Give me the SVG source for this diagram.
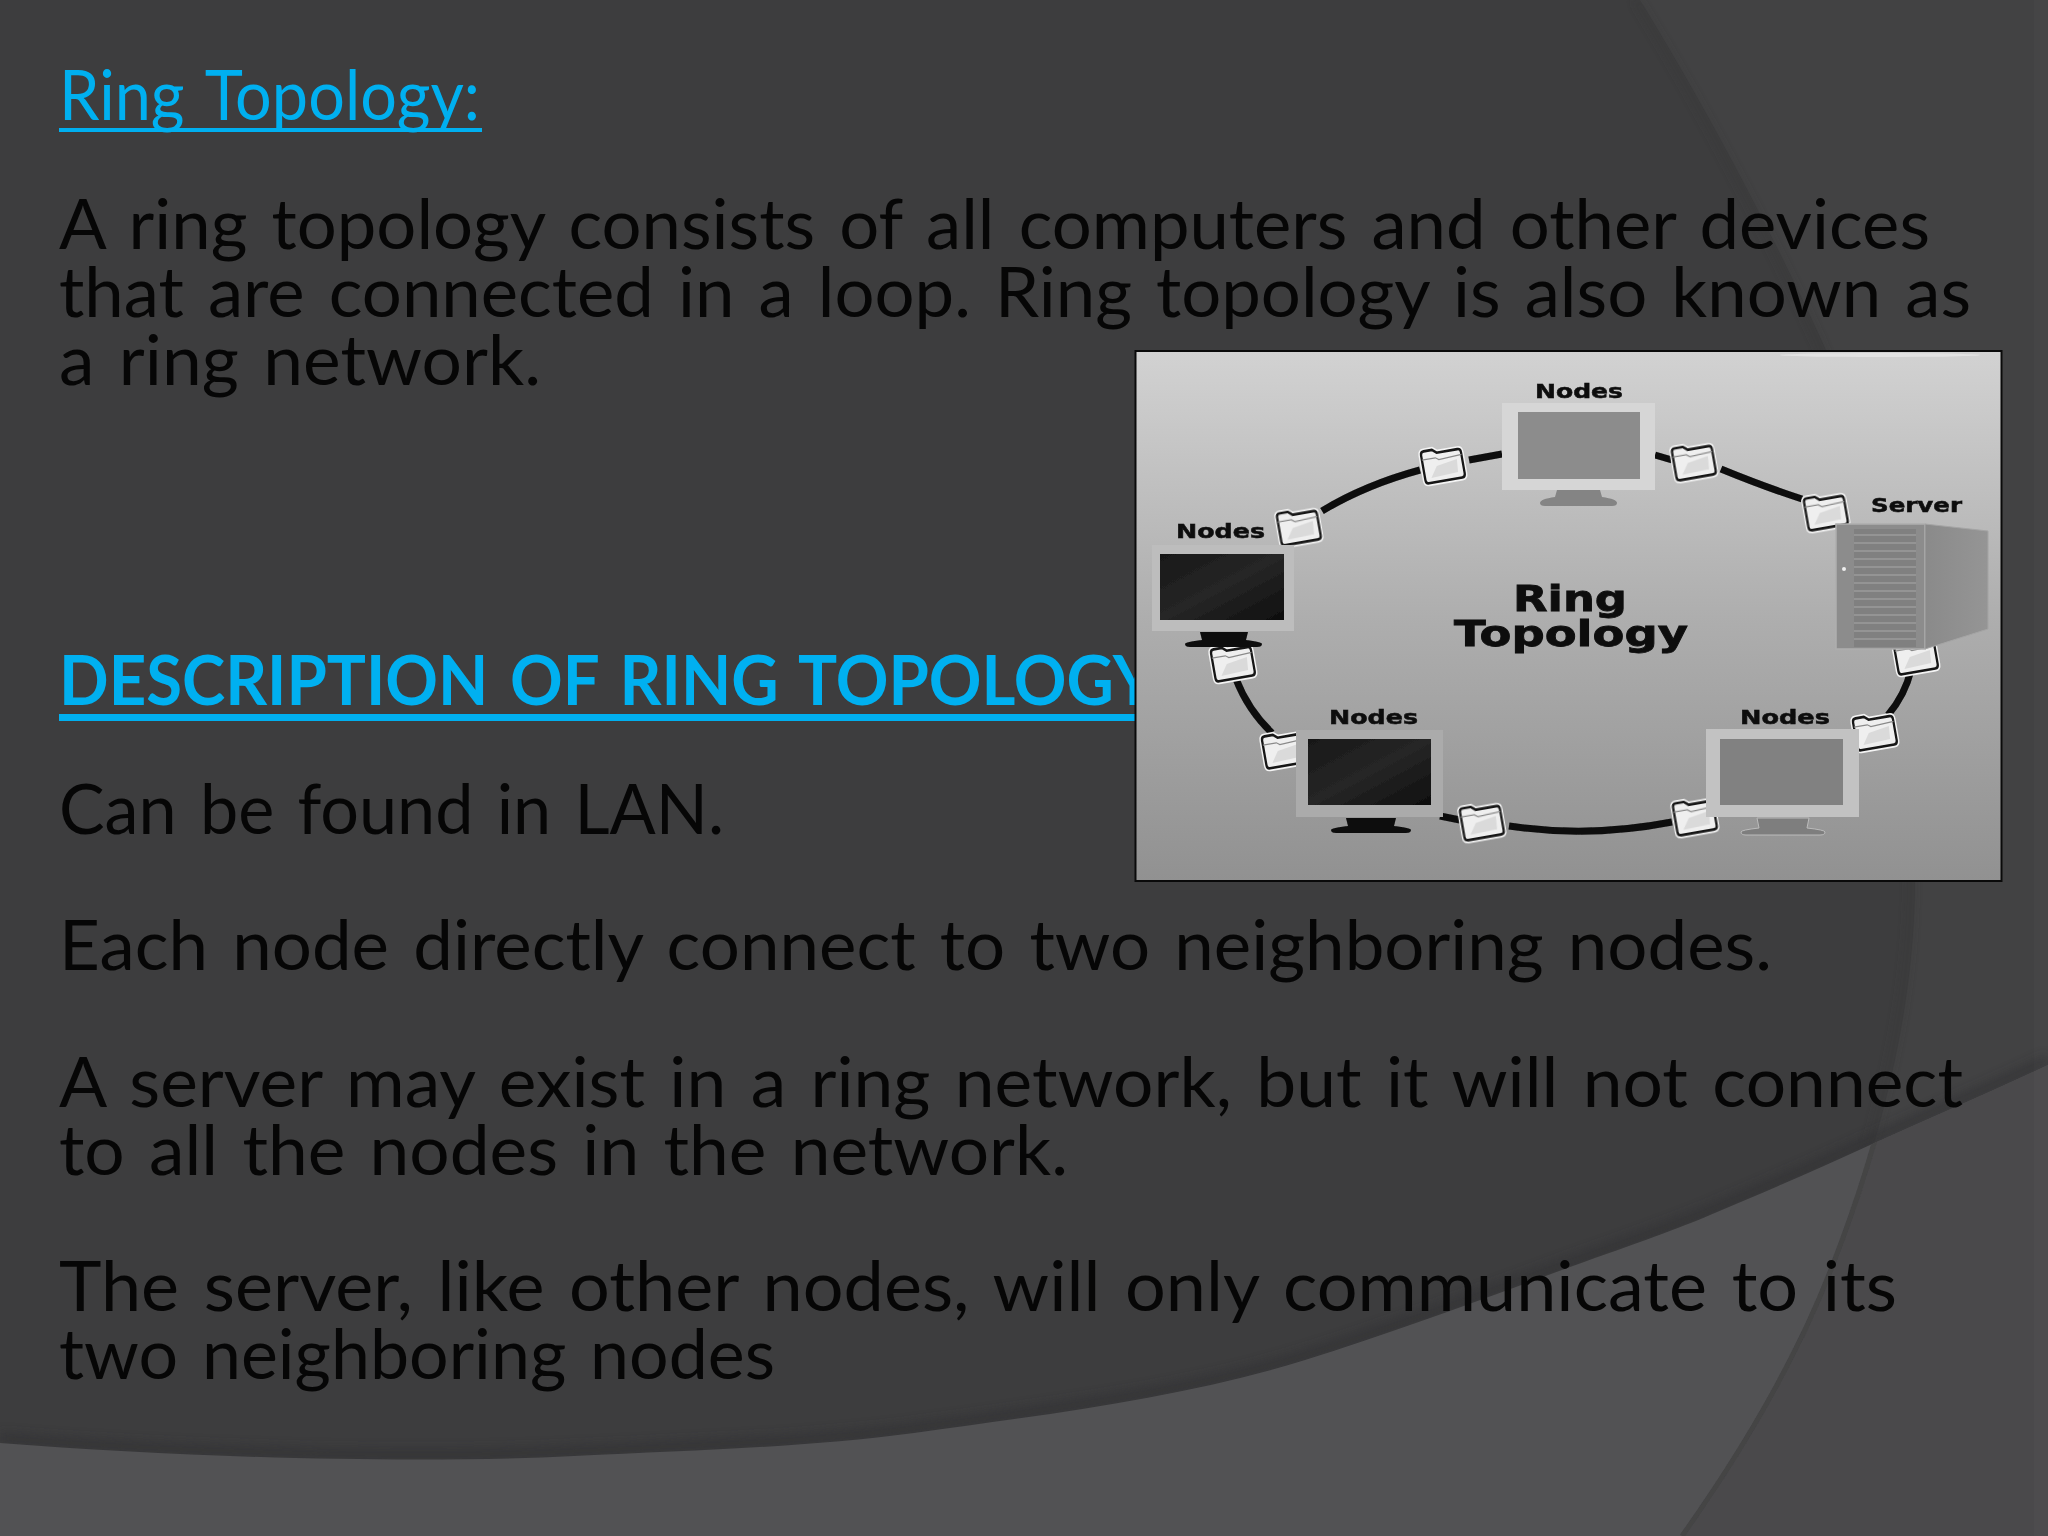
<svg xmlns="http://www.w3.org/2000/svg" width="2048" height="1536" viewBox="0 0 2048 1536">
<style>
.t{font-family:"Lato","Noto Sans",sans-serif;font-size:70px;fill:#060606;word-spacing:6px}
.h{font-family:"Lato","Noto Sans",sans-serif;font-size:69px;fill:#00b0f0;word-spacing:6px}
.l{font-family:"DejaVu Sans",sans-serif;font-weight:700;fill:#0c0c0c;stroke:#0c0c0c;stroke-width:.5;font-size:19px}
.r{font-family:"DejaVu Sans",sans-serif;font-weight:700;fill:#0c0c0c;stroke:#0c0c0c;stroke-width:.8;font-size:36px}
.c{fill:none;stroke:#0a0a0a;stroke-width:7}
</style>
<defs>
<linearGradient id="pic" x1="0" y1="0" x2="0" y2="1"><stop offset="0" stop-color="#d2d2d2"/><stop offset="0.5" stop-color="#aeaeae"/><stop offset="1" stop-color="#919191"/></linearGradient>
<linearGradient id="dark" x1="0" y1="0" x2="1" y2="1"><stop offset="0" stop-color="#181818"/><stop offset="0.5" stop-color="#262626"/><stop offset="1" stop-color="#0e0e0e"/></linearGradient>
<linearGradient id="side" x1="0" y1="0" x2="1" y2="0"><stop offset="0" stop-color="#8a8a8a"/><stop offset="1" stop-color="#959595"/></linearGradient>
<filter id="soft" x="-5%" y="-5%" width="110%" height="110%"><feGaussianBlur stdDeviation="0.6"/></filter>
<filter id="shade" x="-5%" y="-5%" width="110%" height="110%"><feGaussianBlur stdDeviation="5"/></filter>
<path id="arc" d="M1640,0 C1720,130 1790,270 1825,348 C1880,500 1915,700 1915,880 C1915,1000 1885,1130 1832,1267 C1800,1350 1750,1440 1682,1536"/>
<path id="edge" d="M0,1443 C190,1458 420,1464 574,1456 C700,1450 810,1447 914,1433 C1060,1413 1190,1396 1305,1360 C1400,1330 1480,1300 1570,1267 C1640,1242 1680,1228 1710,1215 C1770,1190 1820,1168 1870,1145 C1930,1118 1990,1092 2048,1065"/>
<clipPath id="rightSide"><path d="M1640,0 C1720,130 1790,270 1825,348 C1880,500 1915,700 1915,880 C1915,1000 1885,1130 1832,1267 C1800,1350 1750,1440 1682,1536 H2048 V0 Z"/></clipPath>
<clipPath id="belowEdge"><path d="M0,1443 C190,1458 420,1464 574,1456 C700,1450 810,1447 914,1433 C1060,1413 1190,1396 1305,1360 C1400,1330 1480,1300 1570,1267 C1640,1242 1680,1228 1710,1215 C1770,1190 1820,1168 1870,1145 C1930,1118 1990,1092 2048,1065 V1536 H0 Z"/></clipPath>
<g id="folder" transform="rotate(-10) scale(1.05,1.2)"><path d="M-19,-11 Q-19,-14 -16,-14 L-8,-14 L-4,-11 L16,-11 Q19,-11 19,-8 L19,10 Q19,13 16,13 L-16,13 Q-19,13 -19,10 Z" fill="none" stroke="#f4f4f4" stroke-width="5"/><path d="M-19,-11 Q-19,-14 -16,-14 L-8,-14 L-4,-11 L16,-11 Q19,-11 19,-8 L19,10 Q19,13 16,13 L-16,13 Q-19,13 -19,10 Z" fill="#efefef" stroke="#161616" stroke-width="2.2"/><path d="M-19,-7 L-6,-7 L-3,-5 L19,-6" fill="none" stroke="#8a8a8a" stroke-width="1"/><path d="M-13,9 L-6,0 L14,-3 L13,8 Z" fill="#dadada"/></g>
</defs>
<g id="background">
<rect width="2048" height="1536" fill="#3d3d3e"/>
<g clip-path="url(#rightSide)"><rect width="2048" height="1536" fill="#424243"/></g>
<use href="#arc" fill="none" stroke="#353536" stroke-width="4" filter="url(#shade)" opacity=".45" transform="translate(-4,0)"/>
<use href="#edge" fill="none" stroke="#2f2f30" stroke-width="12" filter="url(#shade)" opacity=".5" transform="translate(0,-5)"/>
<g clip-path="url(#belowEdge)"><rect width="2048" height="1536" fill="#525254"/>
<g clip-path="url(#rightSide)"><rect width="2048" height="1536" fill="#4a494b"/></g>
<use href="#arc" fill="none" stroke="#444445" stroke-width="5" filter="url(#soft)"/></g>
<rect x="2034" width="14" height="1536" fill="#ffffff" opacity=".02"/>
</g>
<g id="text">
<text class="h" x="59" y="120" textLength="421" lengthAdjust="spacingAndGlyphs">Ring Topology:</text>
<rect x="59" y="128" width="423" height="4" fill="#00b0f0"/>
<text class="t" x="59" y="249" textLength="1871" lengthAdjust="spacingAndGlyphs">A ring topology consists of all computers and other devices</text>
<text class="t" x="59" y="317" textLength="1912" lengthAdjust="spacingAndGlyphs">that are connected in a loop. Ring topology is also known as</text>
<text class="t" x="59" y="385" textLength="482" lengthAdjust="spacingAndGlyphs">a ring network.</text>
<text class="h" x="59" y="705" font-weight="700" textLength="1096" lengthAdjust="spacingAndGlyphs">DESCRIPTION OF RING TOPOLOGY</text>
<rect x="59" y="714" width="1080" height="7" fill="#00b0f0"/>
<text class="t" x="59" y="834" textLength="665" lengthAdjust="spacingAndGlyphs">Can be found in LAN.</text>
<text class="t" x="59" y="970" textLength="1713" lengthAdjust="spacingAndGlyphs">Each node directly connect to two neighboring nodes.</text>
<text class="t" x="59" y="1107" textLength="1904" lengthAdjust="spacingAndGlyphs">A server may exist in a ring network, but it will not connect</text>
<text class="t" x="59" y="1175" textLength="1009" lengthAdjust="spacingAndGlyphs">to all the nodes in the network.</text>
<text class="t" x="59" y="1311" textLength="1838" lengthAdjust="spacingAndGlyphs">The server, like other nodes, will only communicate to its</text>
<text class="t" x="59" y="1379" textLength="716" lengthAdjust="spacingAndGlyphs">two neighboring nodes</text>
</g>
<g id="picture">
<rect x="1135.5" y="351" width="866" height="530" fill="url(#pic)" stroke="#0a0a0a" stroke-width="2"/>
<ellipse cx="1880" cy="355" rx="100" ry="2" fill="#e2e2e2" filter="url(#soft)"/>
<g filter="url(#soft)">
<text class="r" x="1513" y="611" textLength="114" lengthAdjust="spacingAndGlyphs">Ring</text>
<text class="r" x="1454" y="646" textLength="234" lengthAdjust="spacingAndGlyphs">Topology</text>
</g>
<g id="connectors" filter="url(#soft)">
<path class="c" d="M1469,460 L1502,454"/>
<path class="c" d="M1420,470 Q1365,485 1322,511"/>
<path class="c" d="M1655,455 L1672,460"/>
<path class="c" d="M1721,469 Q1765,487 1802,499"/>
<path class="c" d="M1911,670 Q1905,695 1888,715"/>
<path class="c" d="M1672,822 Q1590,838 1509,826"/>
<path class="c" d="M1440,816 L1460,820"/>
<path class="c" d="M1236,679 Q1248,710 1272,733"/>
</g>
<g id="folders" filter="url(#soft)">
<use href="#folder" x="1443" y="465"/><use href="#folder" x="1694" y="462"/><use href="#folder" x="1826" y="512"/>
<use href="#folder" x="1916" y="656"/><use href="#folder" x="1875" y="732"/><use href="#folder" x="1695" y="817"/>
<use href="#folder" x="1482" y="822"/><use href="#folder" x="1284" y="750"/><use href="#folder" x="1233" y="663"/><use href="#folder" x="1299" y="527"/>
</g>
<g id="node-top" filter="url(#soft)">
<text class="l" x="1535" y="398" textLength="88" lengthAdjust="spacingAndGlyphs">Nodes</text>
<rect x="1502" y="403" width="153" height="87" fill="#d6d6d6"/><rect x="1518" y="412" width="122" height="67" fill="#8c8c8c"/>
<path d="M1557,490 H1600 L1602,497 Q1617,499 1617,503 Q1617,506 1612,506 H1545 Q1540,506 1540,503 Q1540,499 1555,497 Z" fill="#848484"/>
</g>
<g id="node-server" filter="url(#soft)">
<text class="l" x="1871" y="512" textLength="91" lengthAdjust="spacingAndGlyphs">Server</text>
<path d="M1836,524 H1925 V649 H1836 Z" fill="#8c8c8c" stroke="#aeaeae" stroke-width="1.5"/>
<path d="M1925,524 L1988,531 V629 L1925,649 Z" fill="url(#side)" stroke="#a4a4a4"/>
<rect x="1854" y="529" width="62" height="118" fill="#808080"/>
<path d="M1854,535 H1916 M1854,543 H1916 M1854,551 H1916 M1854,559 H1916 M1854,567 H1916 M1854,575 H1916 M1854,583 H1916 M1854,591 H1916 M1854,599 H1916 M1854,607 H1916 M1854,615 H1916 M1854,623 H1916 M1854,631 H1916 M1854,639 H1916" stroke="#9a9a9a" stroke-width="1.3"/>
<circle cx="1844" cy="569" r="2" fill="#eee"/>
</g>
<g id="node-left" filter="url(#soft)">
<text class="l" x="1176" y="538" textLength="89" lengthAdjust="spacingAndGlyphs">Nodes</text>
<rect x="1152" y="545" width="142" height="86" fill="#bdbdbd"/><rect x="1160" y="554" width="124" height="66" fill="url(#dark)"/>
<path d="M1200,632 H1248 L1246,640 Q1262,642 1262,644 Q1262,647 1257,647 H1190 Q1185,647 1185,644 Q1185,642 1202,640 Z" fill="#0a0a0a"/>
</g>
<g id="node-bl" filter="url(#soft)">
<text class="l" x="1329" y="724" textLength="89" lengthAdjust="spacingAndGlyphs">Nodes</text>
<rect x="1296" y="730" width="147" height="87" fill="#ababab"/><rect x="1308" y="739" width="123" height="66" fill="url(#dark)"/>
<path d="M1346,818 H1396 L1394,826 Q1411,828 1411,830 Q1411,833 1406,833 H1336 Q1331,833 1331,830 Q1331,828 1348,826 Z" fill="#0a0a0a"/>
</g>
<g id="node-br" filter="url(#soft)">
<text class="l" x="1740" y="724" textLength="90" lengthAdjust="spacingAndGlyphs">Nodes</text>
<rect x="1706" y="729" width="153" height="88" fill="#c2c2c2"/><rect x="1720" y="739" width="123" height="66" fill="#818181"/>
<path d="M1757,818 H1809 L1807,828 Q1825,830 1825,832 Q1825,835 1820,835 H1746 Q1741,835 1741,832 Q1741,830 1759,828 Z" fill="#7e7e7e" stroke="#bbb"/>
</g>
</g>
</svg>
